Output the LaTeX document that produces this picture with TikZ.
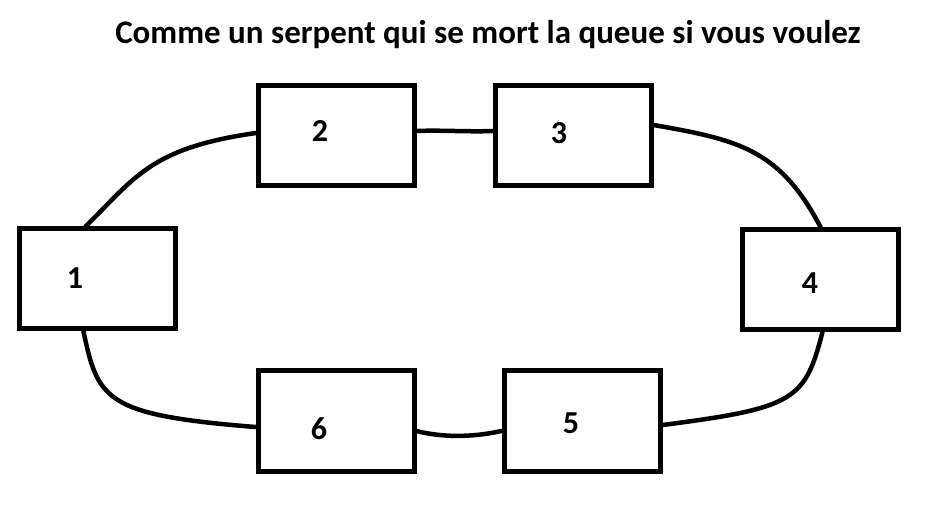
\documentclass[tikz,border=0pt]{standalone}
\usepackage{fontspec}
\setmainfont{Carlito}
\begin{document}
\begin{tikzpicture}[x=1pt,y=-1pt,
  box/.style={draw=black,line width=5pt,minimum width=156pt,minimum height=100pt,inner sep=0pt},
  num/.style={font=\fontsize{32}{32}\selectfont\bfseries,inner sep=0pt},
  link/.style={line width=4.5pt,line cap=round}]
\useasboundingbox (0,0) rectangle (937,518);
\node[font=\fontsize{33}{33}\selectfont\bfseries,inner sep=0pt] (title) at (488,35) {Comme un serpent qui se mort la queue si vous voulez};
\node[box] (b1) at (97,279) {};
\node[box] (b2) at (336.5,136) {};
\node[box] (b3) at (573,136) {};
\node[box] (b4) at (820,279.5) {};
\node[box] (b5) at (582,421) {};
\node[box] (b6) at (336,421) {};
\node[num] (l1) at (75,278) {1};
\node[num] (l2) at (320,131) {2};
\node[num] (l3) at (559,133) {3};
\node[num] (l4) at (810,283) {4};
\node[num] (l5) at (571,423) {5};
\node[num] (l6) at (319,429) {6};
\draw[link] ([xshift=69pt]b1.north west) .. controls (135,178) and (150,148) .. ([yshift=3pt]b2.west);
\draw[link] ([yshift=5pt]b2.east) .. controls (440,130) and (470,132) .. ([yshift=5pt]b3.west);
\draw[link] ([yshift=11pt]b3.east) .. controls (740,140) and (780,150) .. ([xshift=81pt]b4.north west);
\draw[link] ([xshift=83pt]b4.south west) .. controls (805,400) and (795,408) .. ([yshift=-4pt]b5.east);
\draw[link] ([yshift=-10pt]b5.west) .. controls (470,438) and (440,437) .. ([yshift=-10pt]b6.east);
\draw[link] ([yshift=-6pt]b6.west) .. controls (105,415) and (98,400) .. ([xshift=67pt]b1.south west);
\end{tikzpicture}
\end{document}
